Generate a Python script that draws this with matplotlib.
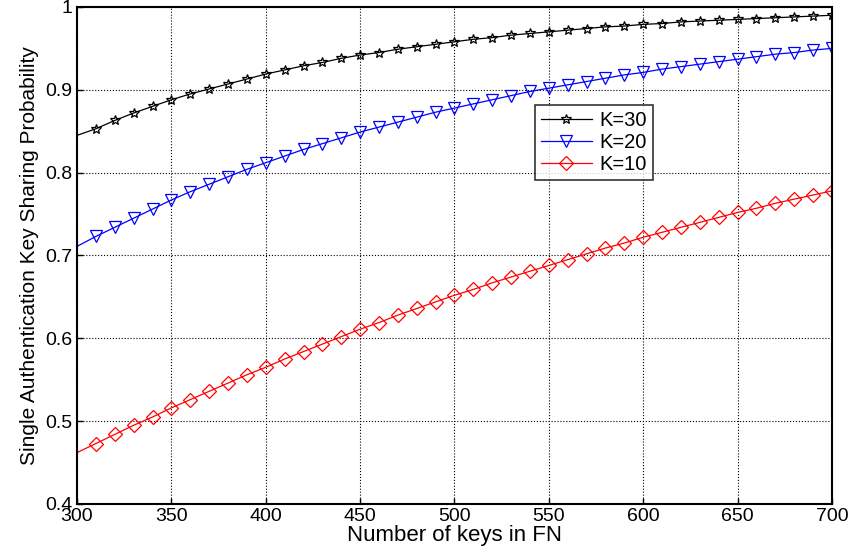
#!/usr/bin/env python3
import matplotlib
matplotlib.use('Agg')
import matplotlib.pyplot as plt

plt.rcParams['font.family'] = ['Liberation Sans', 'DejaVu Sans']

keys = list(range(300, 701, 10))

k30 = [0.845, 0.853, 0.863, 0.872, 0.880, 0.888, 0.895, 0.901, 0.907, 0.913,
       0.919, 0.924, 0.929, 0.933, 0.938, 0.942, 0.945, 0.949, 0.952, 0.955,
       0.958, 0.961, 0.963, 0.966, 0.968, 0.970, 0.972, 0.974, 0.976, 0.977,
       0.979, 0.980, 0.982, 0.983, 0.984, 0.985, 0.986, 0.987, 0.988, 0.989,
       0.990]
k20 = [0.711, 0.723, 0.734, 0.745, 0.756, 0.767, 0.777, 0.786, 0.795, 0.804,
       0.812, 0.820, 0.828, 0.835, 0.842, 0.849, 0.855, 0.861, 0.867, 0.873,
       0.878, 0.883, 0.888, 0.893, 0.898, 0.902, 0.906, 0.910, 0.914, 0.918,
       0.921, 0.925, 0.928, 0.931, 0.934, 0.937, 0.940, 0.943, 0.945, 0.948,
       0.950]
k10 = [0.462, 0.473, 0.484, 0.495, 0.505, 0.516, 0.526, 0.536, 0.546, 0.556,
       0.565, 0.575, 0.584, 0.593, 0.602, 0.611, 0.619, 0.628, 0.636, 0.644,
       0.652, 0.659, 0.667, 0.674, 0.681, 0.688, 0.695, 0.702, 0.709, 0.715,
       0.722, 0.728, 0.734, 0.740, 0.746, 0.752, 0.757, 0.763, 0.768, 0.773,
       0.778]

xticks = [300, 350, 400, 450, 500, 550, 600, 650, 700]
yticks = [0.4, 0.5, 0.6, 0.7, 0.8, 0.9, 1.0]
ytick_labels = ['0.4', '0.5', '0.6', '0.7', '0.8', '0.9', '1']

fig = plt.figure(figsize=(8.52, 5.58), dpi=100)
ax = fig.add_axes([0.0904, 0.0968, 0.8861, 0.8907])

ax.plot(keys, k30, color='black', lw=0.9, marker='*', ms=7, mfc='none',
        mec='black', mew=0.9, markevery=slice(1, None), label='K=30')
ax.plot(keys, k20, color='blue', lw=0.9, marker='v', ms=9, mfc='none',
        mec='blue', mew=0.9, markevery=slice(1, None), label='K=20')
ax.plot(keys, k10, color='red', lw=0.9, marker='D', ms=7, mfc='none',
        mec='red', mew=0.9, markevery=slice(1, None), label='K=10')

ax.set_xlim(300, 700)
ax.set_ylim(0.4, 1.0)
ax.set_xticks(xticks)
ax.set_yticks(yticks)
ax.set_yticklabels(ytick_labels)
ax.tick_params(direction='in', labelsize=14, length=4, width=1)
ax.tick_params(axis='x', pad=3)
ax.grid(True, color='black', linestyle=':', linewidth=0.8)
for s in ax.spines.values():
    s.set_linewidth(1.5)

ax.set_xlabel('Number of keys in FN', fontsize=16, labelpad=0)
ax.set_ylabel('Single Authentication Key Sharing Probability', fontsize=15,
              labelpad=4)

leg = ax.legend(loc='upper left', bbox_to_anchor=(0.607, 0.803), fontsize=14.5,
                frameon=True, fancybox=False, edgecolor='black',
                borderpad=0.3, handlelength=2.5, labelspacing=0.15,
                handletextpad=0.4, borderaxespad=0)
leg.get_frame().set_linewidth(1.2)

fig.savefig('out.png', dpi=100)
